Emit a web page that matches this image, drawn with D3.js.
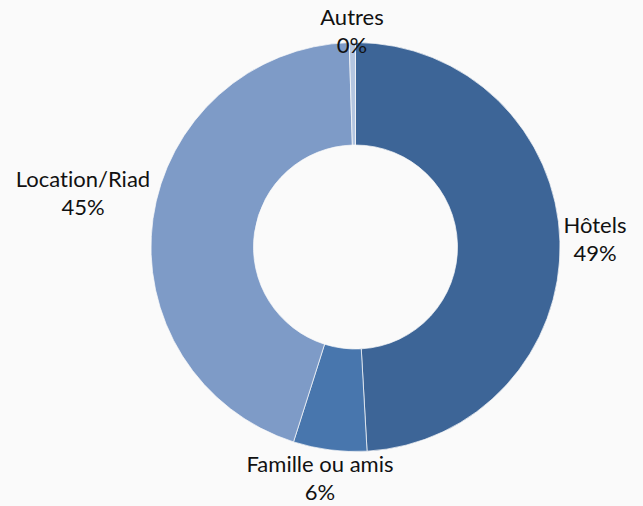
<!DOCTYPE html>
<html><head><meta charset="utf-8">
<script src="https://cdn.jsdelivr.net/npm/d3@7"></script>
<style>html,body{margin:0;padding:0;background:#fafafa;}svg{display:block;}</style>
</head><body>
<svg id="chart" width="643" height="506"></svg>
<script>
const categories = ["Hôtels", "Famille ou amis", "Location/Riad", "Autres"];
const values = [49.1, 5.8, 44.61, 0.49];
const colors = ["#3D6597", "#4876AD", "#7E9BC7", "#B4C6E1"];
const labelPos = [[595, 233], [320, 472], [83, 187], [352, 25]];

const svg = d3.select("#chart");
const cx = 355.5, cy = 247, rOuter = 204.5, rInner = 102;
const total = d3.sum(values);
const pie = d3.pie().sort(null).value(d => d)(values);
const arc = d3.arc().innerRadius(rInner).outerRadius(rOuter);
const g = svg.append("g").attr("transform", `translate(${cx},${cy})`);
g.selectAll("path").data(pie).join("path")
  .attr("d", arc)
  .attr("fill", (d, i) => colors[i])
  .attr("stroke", "#fafafa").attr("stroke-width", 0.7);

const fmt = v => Math.round(v / total * 100) + "%";
const lab = svg.append("g").attr("font-family", "Lato, 'Open Sans', sans-serif")
  .attr("font-size", 22).attr("fill", "#111").attr("text-anchor", "middle")
  .style("font-variant-ligatures", "none");
categories.forEach((c, i) => {
  const t = lab.append("text").attr("x", labelPos[i][0]).attr("y", labelPos[i][1]);
  t.append("tspan").attr("x", labelPos[i][0]).text(c);
  t.append("tspan").attr("x", labelPos[i][0]).attr("dy", 28).text(fmt(values[i]));
});
</script>
</body></html>
